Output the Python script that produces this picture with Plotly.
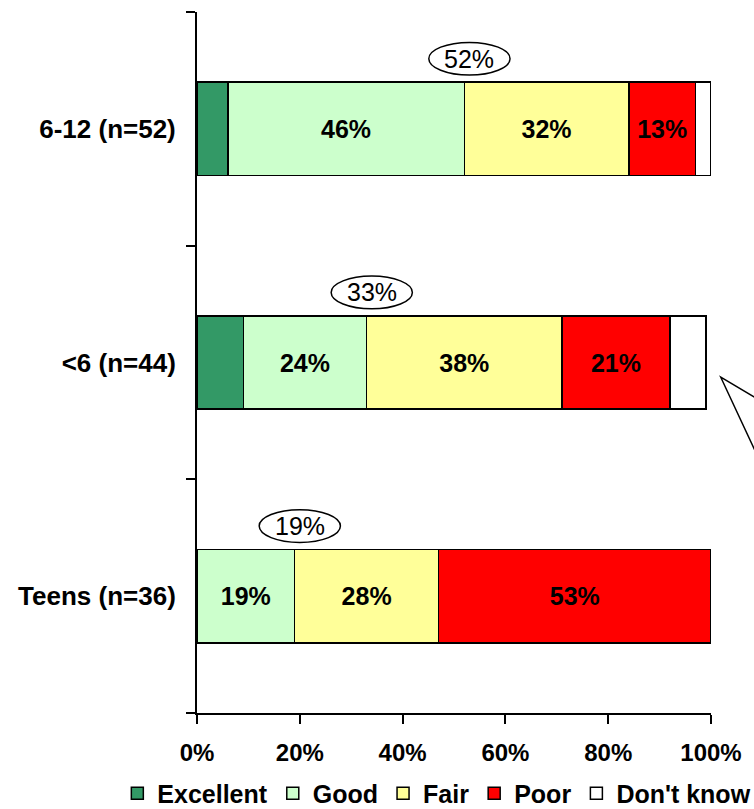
import plotly.graph_objects as go

# Satisfaction ratings by age group (percent of respondents)
groups = ["Teens (n=36)", "<6 (n=44)", "6-12 (n=52)"]
excellent = [0, 9, 6]
good = [19, 24, 46]
fair = [28, 38, 32]
poor = [53, 21, 13]
dont_know = [0, 7, 3]

series_names = ["Excellent", "Good", "Fair", "Poor", "Don't know"]
series_values = [excellent, good, fair, poor, dont_know]
series_colors = ["#339966", "#CCFFCC", "#FFFF99", "#FF0000", "#FFFFFF"]
labelled = [False, True, True, True, False]

tick_values = [0, 20, 40, 60, 80, 100]
tick_labels = ["0%", "20%", "40%", "60%", "80%", "100%"]

FONT = "Arial, 'Liberation Sans', sans-serif"

fig = go.Figure()
for name, vals, color, show in zip(series_names, series_values, series_colors, labelled):
    fig.add_trace(go.Bar(
        name=name,
        y=groups,
        x=vals,
        orientation="h",
        marker=dict(color=color, line=dict(color="black", width=1.5)),
        text=[f"{v}%" if (show and v > 0) else "" for v in vals],
        textposition="inside",
        insidetextanchor="middle",
        textangle=0,
        constraintext="none",
        textfont=dict(family=FONT, size=25, color="black", weight="bold"),
        hoverinfo="skip",
    ))

# Oval call-outs: share rating Excellent or Good, placed at the end of the Good segment
for i, g in enumerate(groups):
    top_two = excellent[i] + good[i]
    cx = top_two + 1
    cy = i + 0.30
    fig.add_shape(type="circle", xref="x", yref="y",
                  x0=cx - 7.9, x1=cx + 7.9, y0=cy - 0.07, y1=cy + 0.07,
                  line=dict(color="black", width=1.5), fillcolor="white")
    fig.add_annotation(x=cx, y=cy, xref="x", yref="y", text=f"{top_two}%",
                       showarrow=False,
                       font=dict(family=FONT, size=25, color="black"))

# Pointer of a speech bubble entering from the right edge
fig.add_shape(type="path", xref="paper", yref="paper",
              path="M 1.12,0.435 L 1.019,0.479 L 1.12,0.32",
              line=dict(color="black", width=1.5))

fig.update_layout(
    barmode="stack",
    bargap=0.6,
    width=754, height=809,
    margin=dict(l=197, r=43, t=12, b=96, autoexpand=False),
    paper_bgcolor="white",
    plot_bgcolor="white",
    font=dict(family=FONT, color="black"),
    showlegend=True,
    legend=dict(
        orientation="h",
        traceorder="normal",
        x=-0.155, xanchor="left",
        y=-0.115, yanchor="middle",
        font=dict(family=FONT, size=25, color="black", weight="bold"),
        itemwidth=30,
        tracegroupgap=0,
    ),
    xaxis=dict(
        range=[0, 100],
        tickvals=tick_values,
        ticktext=tick_labels,
        ticks="outside", ticklen=9, tickwidth=2, tickcolor="black",
        showline=True, linecolor="black", linewidth=2,
        showgrid=False, zeroline=False,
        tickfont=dict(family=FONT, size=24, color="black", weight="bold"),
        ticklabelstandoff=8,
        fixedrange=True,
    ),
    yaxis=dict(
        categoryorder="array", categoryarray=groups,
        tickson="boundaries",
        ticks="outside", ticklen=9, tickwidth=2, tickcolor="black",
        showline=True, linecolor="black", linewidth=2,
        showgrid=False, zeroline=False,
        tickfont=dict(family=FONT, size=26, color="black", weight="bold"),
        fixedrange=True,
        ticklabelstandoff=14,
    ),
)

fig.write_html("out.html")
